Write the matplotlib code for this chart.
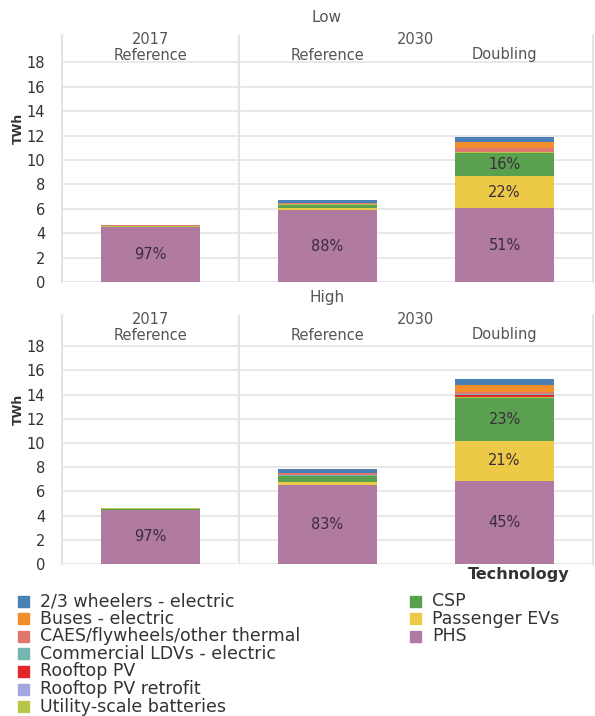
import matplotlib.pyplot as plt
import numpy as np
from matplotlib.patches import Rectangle

# technologies, bottom of the stack first
techs = ['PHS', 'Passenger EVs', 'CSP', 'Utility-scale batteries',
         'Rooftop PV retrofit', 'Rooftop PV', 'Commercial LDVs - electric',
         'CAES/flywheels/other thermal', 'Buses - electric', '2/3 wheelers - electric']
colors = ['#b07aa1', '#edc948', '#59a14f', '#b9c64a',
          '#a3a6e0', '#e3242b', '#76b7b2',
          '#e0776f', '#f28e2b', '#4a7fb5']

years = ['2017', '2030', '2030']
cases = ['Reference', 'Reference', 'Doubling']

# TWh per technology, one value per column (2017 Ref, 2030 Ref, 2030 Doubling)
low_phs = [4.5, 5.9, 6.05]
low_pev = [0.0, 0.2, 2.6]
low_csp = [0.02, 0.25, 1.95]
low_util = [0.08, 0.05, 0.05]
low_retro = [0.0, 0.0, 0.0]
low_rpv = [0.0, 0.0, 0.0]
low_comm = [0.0, 0.02, 0.02]
low_caes = [0.05, 0.03, 0.35]
low_bus = [0.0, 0.05, 0.45]
low_wheel = [0.0, 0.2, 0.45]

high_phs = [4.5, 6.5, 6.9]
high_pev = [0.0, 0.3, 3.25]
high_csp = [0.02, 0.45, 3.55]
high_util = [0.08, 0.05, 0.1]
high_retro = [0.0, 0.0, 0.0]
high_rpv = [0.0, 0.0, 0.2]
high_comm = [0.0, 0.02, 0.02]
high_caes = [0.05, 0.2, 0.2]
high_bus = [0.0, 0.03, 0.55]
high_wheel = [0.0, 0.32, 0.55]

low = [low_phs, low_pev, low_csp, low_util, low_retro, low_rpv, low_comm, low_caes, low_bus, low_wheel]
high = [high_phs, high_pev, high_csp, high_util, high_retro, high_rpv, high_comm, high_caes, high_bus, high_wheel]

# legend order as in the original
legend_col1 = ['2/3 wheelers - electric', 'Buses - electric', 'CAES/flywheels/other thermal',
               'Commercial LDVs - electric', 'Rooftop PV', 'Rooftop PV retrofit',
               'Utility-scale batteries']
legend_col2 = ['CSP', 'Passenger EVs', 'PHS']

W, H = 595, 716
fig = plt.figure(figsize=(W / 100, H / 100), dpi=100)
plt.rcParams['font.family'] = ['DejaVu Sans']

grid_c = '#e4e4e4'
txt_c = '#555555'


def fx(px):
    return px / W


def fy(py):
    return 1 - py / H


def panel(top_px, bot_px, px_per_twh, data, title, title_y):
    ax = fig.add_axes([fx(62), fy(bot_px), fx(593) - fx(62), (bot_px - top_px) / H])
    ax.set_xlim(-0.5, 2.5)
    ax.set_ylim(0, (bot_px - top_px) / px_per_twh)
    x = np.arange(3)
    vals = np.array(data)
    totals = vals.sum(axis=0)
    bottom = np.zeros(3)
    for name, v, c in zip(techs, vals, colors):
        ax.bar(x, v, 0.555, bottom=bottom, color=c, edgecolor='none', zorder=3)
        for i in range(3):
            share = v[i] / totals[i]
            if share >= 0.1:
                ax.text(x[i], bottom[i] + v[i] / 2, f'{share * 100:.0f}%', ha='center',
                        va='center', fontsize=10.5, color='#3b2c3c', zorder=4)
        bottom += v
    ax.set_yticks(range(0, 19, 2))
    ax.set_xticks([])
    ax.yaxis.grid(True, color=grid_c, lw=1.2, zorder=0)
    ax.tick_params(axis='y', length=0, labelsize=10.5, labelcolor='#333333', pad=12)
    for s in ['top', 'bottom']:
        ax.spines[s].set_visible(False)
    for s in ['left', 'right']:
        ax.spines[s].set_color(grid_c)
        ax.spines[s].set_linewidth(1.5)
    ax.axvline(0.5, color=grid_c, lw=1.5, zorder=1)
    ax.set_ylabel('TWh', fontsize=9, fontweight='bold', color='#333333', labelpad=4)
    ax.yaxis.set_label_coords(-0.07, 0.62)
    # column headers
    ytop = ax.get_ylim()[1]
    y1 = ytop - 5 / px_per_twh
    y2 = ytop - 20 / px_per_twh
    ax.text(0, y1, years[0], ha='center', va='center', fontsize=10.5, color=txt_c)
    ax.text(1.5, y1, years[1], ha='center', va='center', fontsize=10.5, color=txt_c)
    for i in range(3):
        ax.text(i, y2, cases[i], ha='center', va='center', fontsize=10.5, color=txt_c)
    fig.text(fx(327), fy(title_y), title, ha='center', va='center', fontsize=11, color=txt_c)
    return ax


panel(35, 282, 12.2, low, 'Low', 18)
panel(315, 564, 12.1, high, 'High', 298)

# legend
fig.text(fx(468), fy(575), 'Technology', fontsize=11.5, fontweight='bold', color='#333333', va='center')
color_of = dict(zip(techs, colors))
for col_x, names in [(18, legend_col1), (410, legend_col2)]:
    for k, name in enumerate(names):
        yc = 601 + k * 17.6
        fig.add_artist(Rectangle((fx(col_x), fy(yc + 5.5)), 11 / W, 11 / H,
                                 transform=fig.transFigure, color=color_of[name]))
        fig.text(fx(col_x + 22), fy(yc), name, fontsize=12.5, color='#333333', va='center')

fig.savefig('out.png', dpi=100)
